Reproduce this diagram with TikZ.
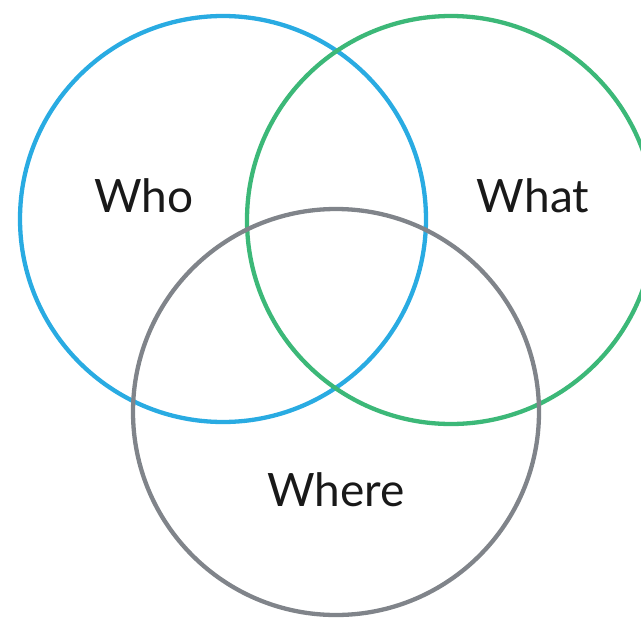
\documentclass[tikz,border=0pt]{standalone}
\usepackage{fontspec}
\setmainfont{Lato}
\definecolor{cblue}{RGB}{41,171,226}
\definecolor{cgreen}{RGB}{60,184,120}
\definecolor{cgray}{RGB}{128,132,138}
\begin{document}
\begin{tikzpicture}[x=1pt,y=-1pt,
  ring/.style={line width=4.3pt},
  lbl/.style={font=\fontsize{46}{50}\selectfont, text=black!90, inner sep=0pt}]
\useasboundingbox (0,0) rectangle (641,619);
\begin{scope}
\clip (0,0) rectangle (641,619);
\draw[ring, cblue] (223,219) circle[radius=203];
\draw[ring, cgreen] (451,220) circle[radius=204];
\draw[ring, cgray] (336,412) circle[radius=203];
\end{scope}
\node[lbl] (who) at (144,196) {Who};
\node[lbl] (what) at (533,196) {What};
\node[lbl] (where) at (336,490) {Where};
\end{tikzpicture}
\end{document}
